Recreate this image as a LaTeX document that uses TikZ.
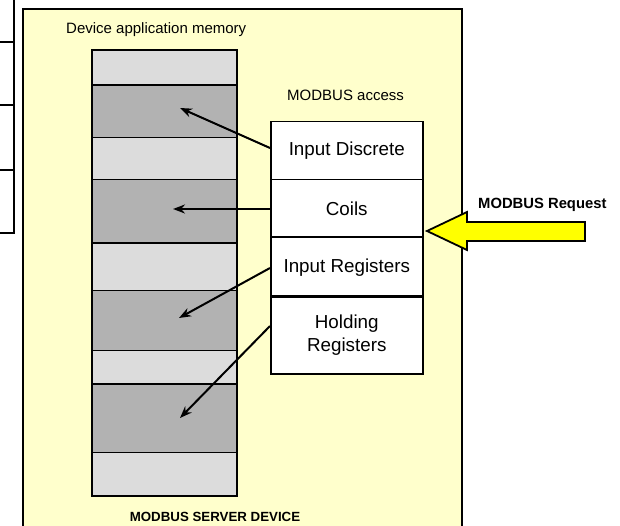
\documentclass[tikz,border=0pt]{standalone}
\usepackage{fontspec}
\setmainfont{Liberation Sans}
\usetikzlibrary{arrows.meta,calc}
\definecolor{bgyellow}{HTML}{FFFFCC}
\definecolor{lightband}{HTML}{DCDCDC}
\definecolor{darkband}{HTML}{B2B2B2}
\definecolor{reqyellow}{HTML}{FFFF00}
\tikzset{
  band/.style={draw, line width=1.1pt, minimum width=144pt, inner sep=0pt, anchor=north west},
  lband/.style={band, fill=lightband},
  dband/.style={band, fill=darkband},
  accbox/.style={draw, line width=1.5pt, fill=white, minimum width=152pt, inner sep=0pt, anchor=north west, align=center, font=\fontsize{18.8}{23}\selectfont},
  lbl/.style={inner sep=0pt, font=\fontsize{15}{17}\selectfont},
  blbl/.style={inner sep=0pt, font=\bfseries\fontsize{14.8}{17}\selectfont},
  acc/.style={line width=2pt, -{Stealth[length=12pt,width=9pt]}},
}
\begin{document}
\begin{tikzpicture}[x=1pt,y=-1pt]
\clip (0,0) rectangle (620,526);
\fill[white] (0,0) rectangle (620,526);
% left partial table
\draw[line width=1.8pt] (14,0) -- (14,233) -- (0,233);
\foreach \yy in {42,105,170} \draw[line width=1.5pt] (0,\yy) -- (14,\yy);
% server device box
\draw[line width=1.8pt, fill=bgyellow] (23,9) rectangle (462,540);
\node[lbl, anchor=west] (devmem) at (66,30) {Device application memory};
\node[lbl, anchor=west] (acctitle) at (287,95) {MODBUS access};
\node[blbl, font=\bfseries\fontsize{13.3}{16}\selectfont, anchor=center] (server) at (215,517) {MODBUS SERVER DEVICE};
% memory bands
\node[lband, minimum height=35pt] (m1) at (92,50) {};
\node[dband, minimum height=52pt] (m2) at (92,85) {};
\node[lband, minimum height=42pt] (m3) at (92,137) {};
\node[dband, minimum height=64pt] (m4) at (92,179) {};
\node[lband, minimum height=47pt] (m5) at (92,243) {};
\node[dband, minimum height=60pt] (m6) at (92,290) {};
\node[lband, minimum height=34pt] (m7) at (92,350) {};
\node[dband, minimum height=68pt] (m8) at (92,384) {};
\node[lband, minimum height=43pt] (m9) at (92,452) {};
\draw[line width=2.4pt] (m1.north west) rectangle (m9.south east);
\foreach \n in {m2,m5,m8} \draw[line width=2.4pt] (\n.north west) -- (\n.north east);
% access boxes
\node[accbox, minimum height=58pt] (a1) at (270,121) {Input Discrete};
\node[accbox, minimum height=58pt] (a2) at (270,179) {Coils};
\node[accbox, minimum height=59pt] (a3) at (270,237) {Input Registers};
\node[accbox, minimum height=77pt] (a4) at (270,296) {Holding\\Registers};
\draw[line width=2.2pt] (a3.north west) -- (a3.north east);
\draw[line width=2.2pt] (a4.north west) -- (a4.north east);
% arrow targets
\coordinate (t1) at ($(m2.north west)+(88,23)$);
\coordinate (t2) at ($(m4.north west)+(81,30)$);
\coordinate (t3) at ($(m6.north west)+(87,28)$);
\coordinate (t4) at ($(m8.north west)+(88,34)$);
\coordinate (s1) at ($(a1.north west)+(0,27)$);
\coordinate (s2) at ($(a2.north west)+(0,30)$);
\coordinate (s3) at ($(a3.north west)+(0,31)$);
\coordinate (s4) at ($(a4.north west)+(0,30)$);
\draw[acc] (s1) -- (t1);
\draw[acc] (s2) -- (t2);
\draw[acc] (s3) -- (t3);
\draw[acc] (s4) -- (t4);
% MODBUS request arrow
\coordinate (rtip) at (427,231);
\draw[line width=1.8pt, fill=reqyellow, line join=miter]
  (rtip) -- ++(40,-19) -- ++(0,10) -- ++(118,0) -- ++(0,19) -- ++(-118,0) -- ++(0,9) -- cycle;
\node[blbl, anchor=west] (req) at (478,205) {MODBUS Request};
\end{tikzpicture}
\end{document}
